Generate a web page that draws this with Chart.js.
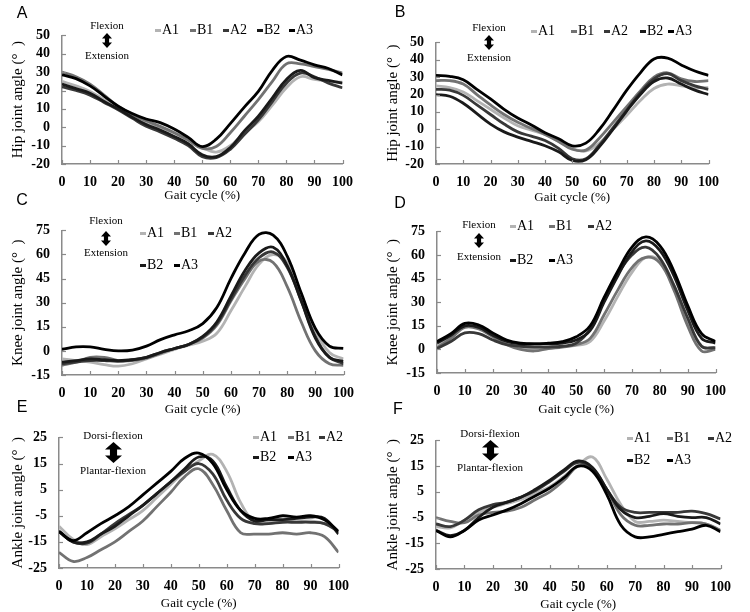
<!DOCTYPE html>
<html><head><meta charset="utf-8">
<script src="https://cdn.jsdelivr.net/npm/chart.js@4/dist/chart.umd.min.js"></script>
<style>
body{margin:0;width:750px;height:612px;background:#fff;position:relative;overflow:hidden;font-family:'Liberation Serif','Times New Roman',serif;color:#000;}
canvas{position:absolute;}
.letter{position:absolute;font-family:'Liberation Sans',Arial,sans-serif;font-size:16px;transform:translate(-50%,-50%);}
.note{position:absolute;font-size:11px;transform:translate(-50%,-50%);white-space:nowrap;}
.leg{position:absolute;font-size:14px;transform:translateY(-50%);white-space:nowrap;display:flex;align-items:center;}
.leg i{display:inline-block;width:6px;height:3px;margin-right:1px;}
svg{position:absolute;}
</style>
</head><body>
<script>
// ---------- data ----------
const gaitCycle = [0,5,10,15,20,25,30,35,40,45,50,55,60,65,70,75,80,85,90,95,100];
const seriesNames = ['A1','B1','A2','B2','A3'];

// A: hip, left
const hipL_A1 = [25,22.5,19.5,15,10.5,6,2.5,0,-3,-7,-11,-13.5,-10,-3,3,12,21.5,27.5,26,25,24.5];
const hipL_B1 = [30,27.5,23.5,17.5,11.5,7,3.5,0.5,-3,-7,-11.5,-10.5,-3,6,15,25,34.5,34.5,33,31.5,29.5];
const hipL_A2 = [22,20,17.5,13.5,9.5,5,0.5,-2.5,-6,-10,-16,-16.5,-12,-4,4,14,24,29.5,27.5,24,21.5];
const hipL_B2 = [23.5,21,18.5,14,10,5.5,1.5,-1.5,-5,-9,-15,-16,-11,-2,6,16,26,31,27,25.5,24];
const hipL_A3 = [28.5,26.5,22.5,17,11.5,7.5,4.5,2.5,-1,-5.5,-10.5,-6.5,2,11,19.5,31,38.5,36.5,34,32,28.5];
// B: hip, right
const hipR_A1 = [25,24,21.5,16.5,11.5,6.5,2,-0.5,-3,-7,-11,-12.5,-8,0,8,16.5,23.5,26,25,24,24];
const hipR_B1 = [28,28,26,20,14,8.5,4,0.5,-3,-7,-11.5,-12,-5,4,13,22,30,32.5,29,27.5,28];
const hipR_A2 = [23,22.5,19.5,14,8.5,3,-1.5,-4,-6.5,-11,-17,-17,-9,1,11,21,29,32,28,25,23];
const hipR_B2 = [20,19,15,9,3,-1.5,-4.5,-7,-9.5,-13,-18,-17.5,-10,0,10.5,20,27.5,29.5,26,22.5,20];
const hipR_A3 = [31,30.5,28.5,23,17.5,11.5,6.5,2.5,-2,-5.5,-9.5,-8,0,11,22.5,32.5,40.5,41,37,33.5,31];
// C: knee, left
const kneeL_A1 = [-5,-6,-7,-8.5,-9.5,-8,-5,-2,1,3.5,6,11,25,40,54,60,55,35,13,-1,-5];
const kneeL_B1 = [-9,-7,-4,-4,-6,-6,-4.5,-1.5,1.5,4,8,16,31,45,56,55,40,18,0,-8,-9];
const kneeL_A2 = [-8,-7,-6,-6,-6.5,-5.5,-4,-1,1.5,4,8.5,17,32,47,58,61.5,52,31,9,-4,-8];
const kneeL_B2 = [-7,-6,-5,-5.5,-6,-5.5,-4,-1,1.5,4,9,18,34,50,61,64.5,53,31,8,-4,-6.5];
const kneeL_A3 = [1,2.5,2.5,1,0,0.5,3,7,10,12.5,17,27,45,61,72.5,72,59,36,14,3,1.5];
// D: knee, right
const kneeR_A1 = [2.5,8,14.5,13.5,9,4,1,0.5,1.5,2,2.5,5,18,34,49,58.5,56,41,18,2,1];
const kneeR_B1 = [1,7,14,13,8,3,0,-1,0.5,1.5,3,7,22,38,52,58.5,55,38,15,-1,0];
const kneeR_A2 = [0.5,5,10.5,10,6,3,2,1.5,1.5,2,4,13,32,48,60,65,58,41,20,2,1];
const kneeR_B2 = [4,9,15,14,9,5,3.5,3.5,3.5,4,6,12,30,47,62,69,63,47,25,7,4];
const kneeR_A3 = [5,10,16.5,15.5,10.5,6,4,3.5,4,5,8,15,33,50,65,71.5,66,50,28,10,5];
// E: ankle, left
const ankleL_A1 = [-9,-14,-16,-13,-10,-6.5,-3,2,7,12,16,18.5,12,0,-7.5,-7.5,-7,-7,-7,-8,-11];
const ankleL_B1 = [-19,-22.5,-21,-18,-15,-11,-7,-1.5,4,10,13,7,-3,-11.5,-12,-12,-11.5,-12,-11.5,-13,-19];
const ankleL_A2 = [-11,-15,-15.5,-12,-8,-4.5,-1,3.5,8,12,15,11,1,-6,-8,-8,-7.5,-7.5,-7.5,-8,-11];
const ankleL_B2 = [-11,-15,-15,-12,-9,-5,-1,3.5,8,13,17.5,16,6,-3,-7,-6.5,-6.5,-6,-5.5,-6,-12];
const ankleL_A3 = [-11,-14.5,-11.5,-8,-5,-1.5,3,7.5,12,17,19,15,5,-3,-6,-6,-5,-5.5,-5,-6.5,-11];
// F: ankle, right
const ankleR_A1 = [-8.5,-9,-6,-3,-1,0.5,2,4.5,7,11,15.5,18.5,10,0,-6.5,-6.5,-6,-6.5,-7,-7.5,-10];
const ankleR_B1 = [-5,-6.5,-7,-4,-3,-2.5,-1,2,5,9.5,15,14,6,-4,-8,-8,-7.5,-7.5,-7,-7.5,-10];
const ankleR_A2 = [-7.5,-8.5,-6,-2,0,1,3,5.5,9,13,16.5,14,6,-1,-3,-3,-3,-3,-2.5,-3.5,-5.5];
const ankleR_B2 = [-10,-12,-10,-5,-1,1,3,6,9.5,13.5,17,14.5,6,-2,-5,-4.5,-3.5,-4.5,-5,-5,-7.5];
const ankleR_A3 = [-10,-12.5,-10,-6,-4,-2,0.5,3.5,6.5,10.5,15,13,4,-8,-12.5,-12.5,-11.5,-10.5,-9.5,-8,-10.5];

// ---------- styles / layout ----------
const seriesColors = ['#b3b3b3','#727272','#383838','#1a1a1a','#000000'];
const FONT = "'Liberation Serif','Times New Roman',serif";
const panels = [
  {letter:'A', series:[hipL_A1,hipL_B1,hipL_A2,hipL_B2,hipL_A3], yMin:-20,yMax:50,yStep:10, yTitle:'Hip joint angle (°  )',
   L:62,T:25,R:349,B:164,cx:0,H:41, lx:22,ly:13,
   legend:[[155,30],[190,30],[223,30],[257,30],[289,30]], note:['Flexion','Extension'], n:[107,25,40,55], aw:10,ah:15},
  {letter:'B', series:[hipR_A1,hipR_B1,hipR_A2,hipR_B2,hipR_A3], yMin:-20,yMax:50,yStep:10, yTitle:'Hip joint angle (°  )',
   L:436,T:32,R:715,B:164,cx:375,H:43, lx:400,ly:12,
   legend:[[531,31],[571,31],[604,31],[640,31],[668,31]], note:['Flexion','Extension'], n:[489,27,42,57], aw:10,ah:15},
  {letter:'C', series:[kneeL_A1,kneeL_B1,kneeL_A2,kneeL_B2,kneeL_A3], yMin:-15,yMax:75,yStep:15, yTitle:'Knee joint angle (°  )',
   L:62,T:220,R:350,B:375,cx:0,H:44, lx:22,ly:200,
   legend:[[140,233],[174,233],[208,233],[140,265],[174,265]], note:['Flexion','Extension'], n:[106,220,238,252], aw:10,ah:15},
  {letter:'D', series:[kneeR_A1,kneeR_B1,kneeR_A2,kneeR_B2,kneeR_A3], yMin:-15,yMax:75,yStep:15, yTitle:'Knee joint angle (°  )',
   L:437,T:221,R:722,B:373,cx:375,H:46, lx:400,ly:203,
   legend:[[510,226],[549,226],[588,226],[510,260],[549,260]], note:['Flexion','Extension'], n:[479,224,240,256], aw:10,ah:15},
  {letter:'E', series:[ankleL_A1,ankleL_B1,ankleL_A2,ankleL_B2,ankleL_A3], yMin:-25,yMax:25,yStep:10, yTitle:'Ankle joint angle (°  )',
   L:59,T:427,R:345,B:568,cx:0,H:45, lx:22,ly:407,
   legend:[[253,437],[288,437],[319,437],[253,457],[288,457]], note:['Dorsi-flexion','Plantar-flexion'], n:[113,435,452,470], aw:17,ah:21},
  {letter:'F', series:[ankleR_A1,ankleR_B1,ankleR_A2,ankleR_B2,ankleR_A3], yMin:-25,yMax:25,yStep:10, yTitle:'Ankle joint angle (°  )',
   L:436,T:430,R:727,B:569,cx:375,H:45, lx:398,ly:409,
   legend:[[627,438],[667,438],[708,438],[627,460],[667,460]], note:['Dorsi-flexion','Plantar-flexion'], n:[490,433,450,467], aw:17,ah:21},
];

const innerTicks = {
  id:'innerTicks',
  afterDraw(chart){
    const xs = chart.scales.x, ys = chart.scales.y, a = chart.chartArea, ctx = chart.ctx;
    ctx.save(); ctx.strokeStyle = '#8a8a8a'; ctx.lineWidth = 1.2;
    xs.ticks.forEach(t => { const px = Math.round(xs.getPixelForValue(t.value)) + 0.5;
      ctx.beginPath(); ctx.moveTo(px, a.bottom); ctx.lineTo(px, a.bottom - 4); ctx.stroke(); });
    ys.ticks.forEach(t => { const py = Math.round(ys.getPixelForValue(t.value)) + 0.5;
      ctx.beginPath(); ctx.moveTo(a.left, py); ctx.lineTo(a.left + 4, py); ctx.stroke(); });
    ctx.restore();
  }
};

function arrowSvg(cx, cy, w, h){
  const s = w*0.42, hh = h*0.36;
  const pts = [[0,-h/2],[w/2,-h/2+hh],[s/2,-h/2+hh],[s/2,h/2-hh],[w/2,h/2-hh],[0,h/2],[-w/2,h/2-hh],[-s/2,h/2-hh],[-s/2,-h/2+hh],[-w/2,-h/2+hh]];
  const svg = document.createElementNS('http://www.w3.org/2000/svg','svg');
  svg.setAttribute('width', w+2); svg.setAttribute('height', h+2);
  svg.style.left = (cx - w/2 - 1) + 'px'; svg.style.top = (cy - h/2 - 1) + 'px';
  const p = document.createElementNS('http://www.w3.org/2000/svg','polygon');
  p.setAttribute('points', pts.map(q => (q[0]+w/2+1)+','+(q[1]+h/2+1)).join(' '));
  p.setAttribute('fill', '#000');
  svg.appendChild(p); document.body.appendChild(svg);
}

function addDiv(cls, text, x, y){
  const d = document.createElement('div'); d.className = cls; d.textContent = text;
  d.style.left = x + 'px'; d.style.top = y + 'px'; document.body.appendChild(d); return d;
}

panels.forEach(p => {
  const padTop = 10, padRight = 14, padBottom = 2;
  const cy = p.T - padTop;
  const cw = p.R + padRight - p.cx;
  const ch = p.B + p.H + padBottom - cy;
  const cv = document.createElement('canvas');
  cv.width = cw; cv.height = ch;
  cv.style.left = p.cx + 'px'; cv.style.top = cy + 'px';
  cv.style.width = cw + 'px'; cv.style.height = ch + 'px';
  document.body.appendChild(cv);

  const datasets = p.series.map((vals, i) => ({
    label: seriesNames[i],
    data: vals.map((v, k) => ({x: gaitCycle[k], y: v})),
    borderColor: seriesColors[i], borderWidth: 2.8, pointRadius: 0,
    tension: 0.4, fill: false, order: 5 - i
  }));

  new Chart(cv, {
    type: 'line',
    data: {datasets},
    options: {
      responsive: false, animation: false, events: [],
      layout: {padding: {left: 0, top: padTop, right: padRight, bottom: padBottom}},
      plugins: {legend: {display: false}, tooltip: {enabled: false}},
      scales: {
        x: {type: 'linear', min: 0, max: 100,
            ticks: {stepSize: 10, autoSkip: false, color: '#000', padding: 10, maxRotation: 0, font: {family: FONT, size: 14, weight: 'bold'}},
            grid: {display: false, drawTicks: false}, border: {display: true, color: '#8a8a8a', width: 1.5},
            title: {display: true, text: 'Gait cycle (%)', color: '#000', padding: {top: 0, bottom: 2}, font: {family: FONT, size: 13}},
            afterFit: s => { s.height = p.H; }},
        y: {type: 'linear', min: p.yMin, max: p.yMax,
            ticks: {stepSize: p.yStep, autoSkip: false, color: '#000', padding: 12, font: {family: FONT, size: 14, weight: 'bold'}},
            grid: {display: false, drawTicks: false}, border: {display: true, color: '#8a8a8a', width: 1.5},
            title: {display: true, text: p.yTitle, color: '#000', padding: {top: 9, bottom: 0}, font: {family: FONT, size: 15}},
            afterFit: s => { s.width = p.L - p.cx; }}
      }
    },
    plugins: [innerTicks]
  });

  addDiv('letter', p.letter, p.lx, p.ly);
  addDiv('note', p.note[0], p.n[0], p.n[1]);
  addDiv('note', p.note[1], p.n[0], p.n[3]);
  arrowSvg(p.n[0], p.n[2], p.aw, p.ah);
  p.legend.forEach((pos, i) => {
    const d = document.createElement('div'); d.className = 'leg';
    d.style.left = pos[0] + 'px'; d.style.top = pos[1] + 'px';
    const m = document.createElement('i'); m.style.background = seriesColors[i];
    d.appendChild(m); d.appendChild(document.createTextNode(seriesNames[i]));
    document.body.appendChild(d);
  });
});
</script>
</body></html>
